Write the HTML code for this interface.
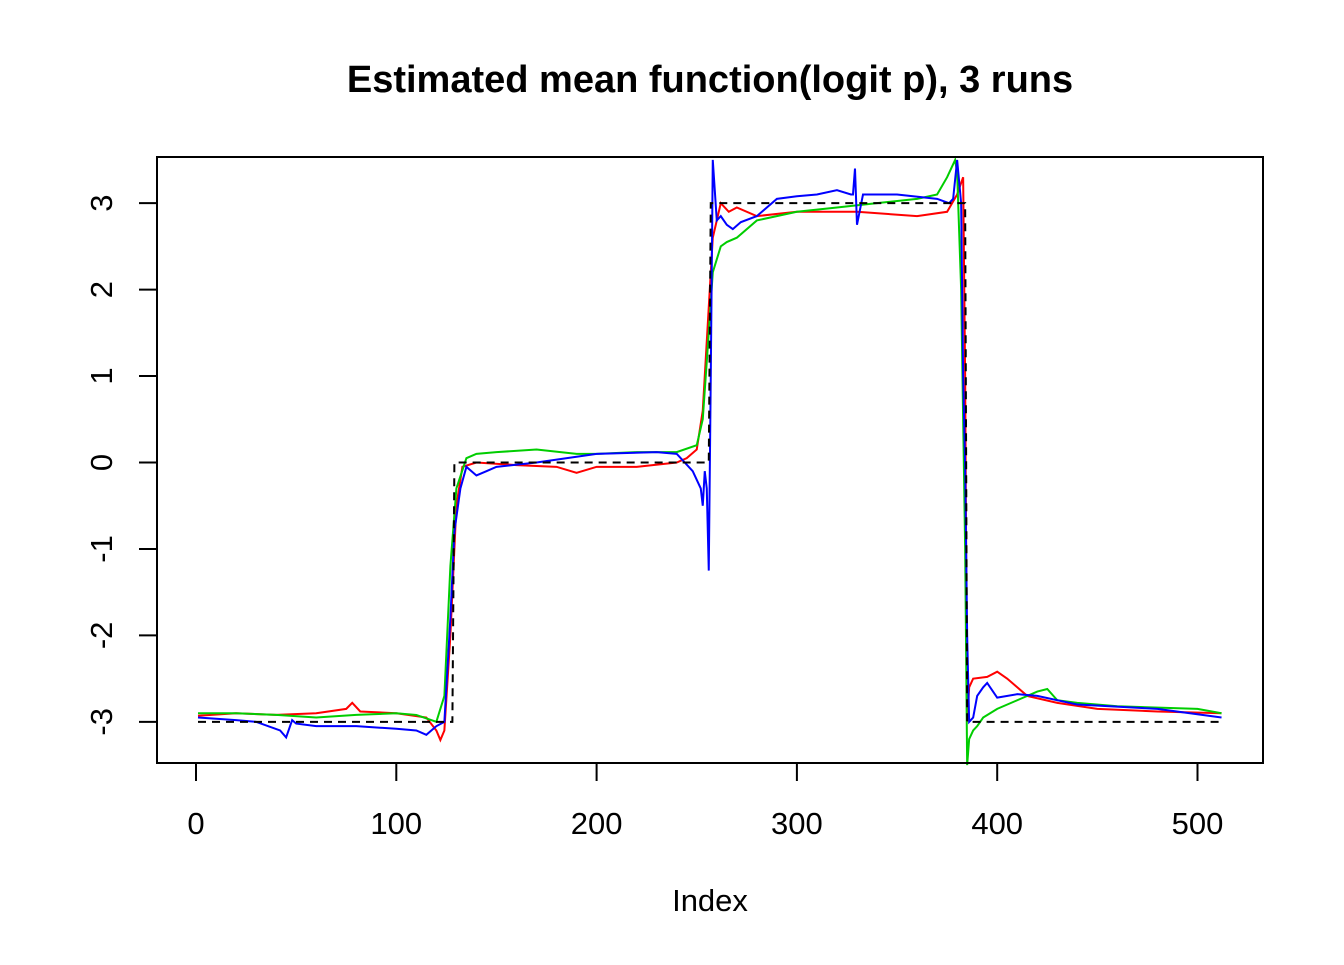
<!DOCTYPE html>
<html><head><meta charset="utf-8"><style>
body{margin:0;background:#fff}
svg text{font-family:"Liberation Sans",Arial,sans-serif}
</style></head><body>
<svg id="chart" width="1344" height="960" xmlns="http://www.w3.org/2000/svg">
<rect width="1344" height="960" fill="#fff"/>
<text x="710" y="92" text-anchor="middle" font-size="38" font-weight="bold">Estimated mean function(logit p), 3 runs</text>
<text x="710" y="911" text-anchor="middle" font-size="31">Index</text>
<g id="xaxis"></g>
<g id="yaxis"></g>
<g id="plot"></g>
<rect x="157" y="157" width="1106" height="606" fill="none" stroke="#000" stroke-width="2"/>
</svg>
<script>
const xTicks=[0,100,200,300,400,500];
const yTicks=[-3,-2,-1,0,1,2,3];
const trueX=[1,128,129,256,257,384,385,512];
const trueY=[-3,-3,0,0,3,3,-3,-3];
const redX=[1,20,40,60,75,78,82,100,115,120,122,124,127,130,133,140,160,180,190,200,220,240,245,250,253,256,258,262,266,270,280,300,330,360,375,380,383,384,385,386,388,395,400,405,415,430,450,480,512];
const redY=[-2.93,-2.9,-2.92,-2.9,-2.85,-2.78,-2.88,-2.9,-2.95,-3.1,-3.21,-3.1,-2.0,-0.5,-0.05,0.0,-0.03,-0.05,-0.12,-0.05,-0.05,0.0,0.05,0.15,0.6,1.8,2.6,3.0,2.9,2.95,2.85,2.9,2.9,2.85,2.9,3.1,3.3,1.0,-3.0,-2.6,-2.5,-2.48,-2.42,-2.5,-2.7,-2.78,-2.85,-2.88,-2.9];
const greenX=[1,20,40,60,80,100,110,120,124,127,130,135,140,150,170,190,200,220,240,250,253,256,258,262,265,270,280,300,320,340,360,370,375,379,380,382,384,385,386,388,390,393,400,410,420,425,430,440,460,500,512];
const greenY=[-2.9,-2.9,-2.92,-2.95,-2.92,-2.9,-2.92,-3.0,-2.7,-1.2,-0.3,0.05,0.1,0.12,0.15,0.1,0.1,0.12,0.12,0.2,0.5,1.5,2.2,2.5,2.55,2.6,2.8,2.9,2.95,3.0,3.05,3.1,3.3,3.5,3.35,2.0,-1.0,-3.5,-3.2,-3.1,-3.05,-2.95,-2.85,-2.75,-2.65,-2.62,-2.75,-2.78,-2.82,-2.85,-2.9];
const blueX=[1,20,30,42,45,48,50,60,80,100,110,115,120,124,127,129,132,135,140,145,150,170,200,230,240,248,252,253,254,255,256,257,258,260,262,265,268,272,280,290,300,310,320,327,328,329,330,333,350,370,376,378,380,382,383,384,385,386,388,390,393,395,400,410,420,440,480,512];
const blueY=[-2.95,-2.98,-3.0,-3.1,-3.18,-2.98,-3.02,-3.05,-3.05,-3.08,-3.1,-3.15,-3.05,-3.0,-1.8,-0.8,-0.3,-0.05,-0.15,-0.1,-0.05,0.0,0.1,0.12,0.1,-0.1,-0.3,-0.5,-0.1,-0.3,-1.25,1.0,3.5,2.8,2.85,2.75,2.7,2.78,2.85,3.05,3.08,3.1,3.15,3.1,3.1,3.4,2.75,3.1,3.1,3.05,3.0,3.05,3.5,3.0,1.0,-0.05,-2.0,-3.0,-2.95,-2.7,-2.6,-2.55,-2.72,-2.68,-2.7,-2.8,-2.85,-2.95];
const NS="http://www.w3.org/2000/svg";
const sx=v=>196+(v)*2.003;
const sy=v=>462.5-v*86.45;
function mk(tag,attrs,parent){const e=document.createElementNS(NS,tag);for(const k in attrs)e.setAttribute(k,attrs[k]);parent.appendChild(e);return e;}
const xa=document.getElementById('xaxis'),ya=document.getElementById('yaxis'),pl=document.getElementById('plot');
mk('line',{x1:sx(0),x2:sx(500),y1:763,y2:763,stroke:'#000','stroke-width':2},xa);
xTicks.forEach(t=>{
  const l=mk('line',{x1:sx(t),x2:sx(t),y1:763,y2:781,stroke:'#000','stroke-width':2},xa);
  
  
  const tx=mk('text',{x:sx(t),y:834,'text-anchor':'middle','font-size':31},xa);tx.textContent=t;
  
  
});
mk('line',{x1:157,x2:157,y1:sy(-3),y2:sy(3),stroke:'#000','stroke-width':2},ya);
yTicks.forEach(t=>{
  const l=mk('line',{x1:139,x2:157,y1:sy(t),y2:sy(t),stroke:'#000','stroke-width':2},ya);
  
  
  const tx=mk('text',{x:0,y:0,'text-anchor':'middle','font-size':31,transform:`translate(112,${sy(t)}) rotate(-90)`},ya);tx.textContent=t;
  
  
});
function line(xs,ys,color,dash,name){
  const p=mk('polyline',{points:xs.map((x,i)=>sx(x)+','+sy(ys[i])).join(' '),fill:'none',stroke:color,'stroke-width':2,'stroke-dasharray':dash||'none'},pl);
  
  
}
line(redX,redY,'#ff0000',null,'series-run-1-red');
line(greenX,greenY,'#00cd00',null,'series-run-2-green');
line(blueX,blueY,'#0000ff',null,'series-run-3-blue');
line(trueX,trueY,'#000','8,6','true-function-dashed');
</script>
</body></html>
